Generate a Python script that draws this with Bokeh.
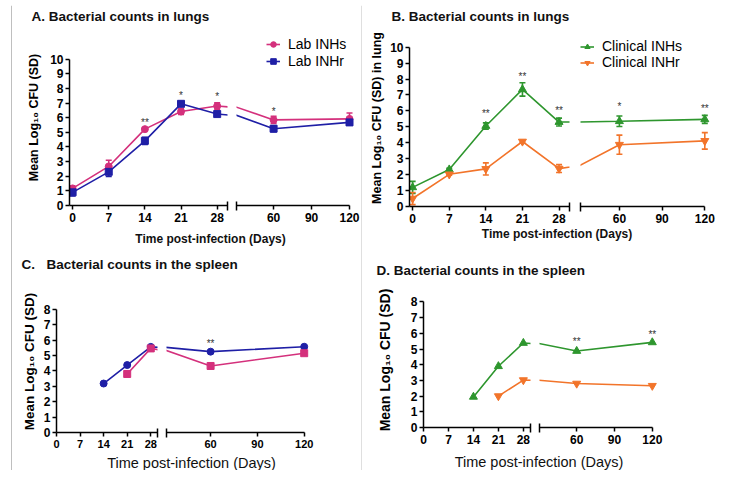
from bokeh.plotting import figure
from bokeh.layouts import row, column
from bokeh.models import (FixedTicker, Legend, LegendItem, Label, Whisker, TeeHead,
                          ColumnDataSource, Range1d, BoxAnnotation)
from bokeh.core.properties import value
from bokeh.embed import file_html
from bokeh.resources import INLINE

FONT = "Liberation Sans"

# ---------------- data ----------------
days = [0, 7, 14, 21, 28, 60, 120]
left_ticks = [0, 7, 14, 21, 28]
right_ticks = [60, 90, 120]

# A. lungs, lab strains
a_inhs = [1.17, 2.67, 5.22, 6.42, 6.8, 5.85, 5.92]
a_inhs_sd = [0.15, 0.42, 0.08, 0.2, 0.22, 0.25, 0.4]
a_inhr = [0.9, 2.3, 4.42, 6.95, 6.25, 5.25, 5.68]
a_inhr_sd = [0.25, 0.32, 0.25, 0.15, 0.12, 0.2, 0.15]
a_sig_days = [14, 21, 28, 60]
a_sig_y = [5.7, 7.5, 7.45, 6.4]
a_sig_txt = ["**", "*", "*", "*"]

# B. lungs, clinical strains
b_inhs = [1.2, 2.32, 5.05, 7.35, 5.3, 5.35, 5.47]
b_inhs_sd = [0.38, 0.08, 0.2, 0.42, 0.25, 0.33, 0.25]
b_inhr = [0.5, 2.02, 2.36, 4.08, 2.38, 3.88, 4.12]
b_inhr_sd = [0.38, 0.06, 0.38, 0.08, 0.25, 0.6, 0.52]
b_sig_days = [14, 21, 28, 60, 120]
b_sig_y = [5.82, 8.15, 6.05, 6.25, 6.15]
b_sig_txt = ["**", "**", "**", "*", "**"]

# C. spleen, lab strains
c_days_r = [14, 21, 28, 60, 120]
c_inhr = [3.18, 4.38, 5.56, 5.25, 5.57]
c_days_s = [21, 28, 60, 120]
c_inhs = [3.8, 5.46, 4.32, 5.15]
c_sig_days = [60]
c_sig_y = [5.8]
c_sig_txt = ["**"]

# D. spleen, clinical strains
d_days_s = [14, 21, 28, 60, 120]
d_inhs = [1.95, 3.9, 5.38, 4.87, 5.42]
d_days_r = [21, 28, 60, 120]
d_inhr = [2.0, 3.02, 2.8, 2.66]
d_sig_days = [60, 120]
d_sig_y = [5.45, 5.92]
d_sig_txt = ["**", "**"]

PINK = "#d4307c"
BLUE = "#1f1fa6"
GREEN = "#2e962e"
ORANGE = "#f2742a"
FRAME = "#808080"
XLABEL = "Time post-infection (Days)"


def style_axis(ax, size):
    ax.axis_line_color = "black"
    ax.axis_line_width = 1.5
    ax.major_tick_line_color = "black"
    ax.major_tick_line_width = 1.5
    ax.major_tick_in = 0
    ax.major_tick_out = 4
    ax.minor_tick_line_color = "black"
    ax.minor_tick_line_width = 1.5
    ax.minor_tick_in = 4
    ax.minor_tick_out = 5
    ax.major_label_text_font = FONT
    ax.major_label_text_font_size = size
    ax.major_label_text_font_style = "bold"
    ax.major_label_text_color = "black"
    ax.major_label_standoff = 2


def blank_fig(w, h, color="white"):
    f = figure(width=w, height=h, x_axis_location=None, y_axis_location=None,
               x_range=Range1d(0, w), y_range=Range1d(0, h),
               min_border_left=0, min_border_right=0, min_border_top=0, min_border_bottom=0,
               outline_line_color=None, toolbar_location=None, output_backend="svg",
               background_fill_color=color, border_fill_color=color)
    f.xgrid.visible = False
    f.ygrid.visible = False
    return f


def rule(f, left, right, bottom, top):
    # grey rule of the composite figure frame (decoration, in pixel units)
    f.add_layout(BoxAnnotation(left=left, right=right, bottom=bottom, top=top,
                               fill_color=FRAME, fill_alpha=1.0, line_color=None,
                               level="overlay"))


def text_fig(w, h, labels):
    f = blank_fig(w, h)
    for (x, y, txt, size, style, align) in labels:
        f.add_layout(Label(x=x, y=y, x_units="canvas", y_units="canvas", text=txt,
                           text_font=FONT, text_font_size=size, text_font_style=style,
                           text_color="#111111", text_align=align, text_baseline="middle"))
    return f


def make_row(P, series, sig, legend_loc=None):
    x0, w, top, hrow = P["x0"], P["w"], P["top"], P["hrow"]
    fl, l30, split, x_start = P["fl"], P["l30"], P["split"], P["x_start"]
    xr1 = Range1d(x_start, 30)
    ppd2 = (P["p120"] - P["p60"]) / 60.0
    fr2 = P["fr2"]
    xs = 60 - (P["p60"] - P["r_left"]) / ppd2
    xr2 = Range1d(xs, 120 + (fr2 - P["p120"]) / ppd2)
    yr = Range1d(0, P["ymax"] * (P["p0"] - P["ftop"]) / (P["p0"] - P["ptop"]))
    common = dict(height=hrow, y_range=yr, output_backend="svg", toolbar_location=None,
                  min_border_top=P["ftop"] - top, min_border_bottom=top + hrow - P["p0"],
                  background_fill_color="white", border_fill_color="white",
                  outline_line_color=None)
    f1 = figure(width=split - x0, x_range=xr1, min_border_left=fl - x0,
                min_border_right=split - l30, **common)
    f2 = figure(width=x0 + w - split, x_range=xr2, min_border_left=P["r_left"] - split,
                min_border_right=x0 + w - fr2, y_axis_location=None, **common)
    for f in (f1, f2):
        f.xgrid.visible = False
        f.ygrid.visible = False
        style_axis(f.xaxis[0], P["xtick_size"])
    f1.xaxis[0].ticker = FixedTicker(ticks=left_ticks, minor_ticks=[29.98])
    f1.xaxis[0].bounds = (x_start, 30)
    f2.xaxis[0].ticker = FixedTicker(ticks=right_ticks, minor_ticks=[xs + 0.02])
    f2.xaxis[0].bounds = (xs, 120)

    ya = f1.yaxis[0]
    style_axis(ya, P["ytick_size"])
    ya.ticker = FixedTicker(ticks=list(range(0, P["ymax"] + 1)), minor_ticks=[])
    ya.bounds = (0, P["ymax"])
    ya.axis_label = P["ylabel"]
    ya.axis_label_text_font = FONT
    ya.axis_label_text_font_size = P["ylabel_size"]
    ya.axis_label_text_font_style = "bold"
    ya.axis_label_text_color = "black"
    ya.axis_label_standoff = P["ylabel_standoff"]

    items = []
    for s in series:
        rends = []
        for f, left in ((f1, True), (f2, False)):
            lr = f.line(s["days"], s["vals"], line_color=s["color"], line_width=1.6)
            idx = [i for i, d in enumerate(s["days"]) if (d <= 30) == left]
            data = dict(x=[s["days"][i] for i in idx], y=[s["vals"][i] for i in idx])
            if s.get("sd") is not None:
                data["upper"] = [s["vals"][i] + s["sd"][i] for i in idx]
                data["lower"] = [s["vals"][i] - s["sd"][i] for i in idx]
            src = ColumnDataSource(data)
            sr = f.scatter("x", "y", source=src, marker=s["marker"], size=s["size"],
                           fill_color=s["color"], line_color=s["color"])
            if s.get("sd") is not None:
                wk = Whisker(base="x", upper="upper", lower="lower", source=src,
                             line_color=s["color"], line_width=1.6,
                             upper_head=TeeHead(size=6, line_color=s["color"], line_width=1.6),
                             lower_head=TeeHead(size=6, line_color=s["color"], line_width=1.6))
                f.add_layout(wk)
            if not left:
                rends = [lr, sr]
        if s.get("label"):
            items.append(LegendItem(label=s["label"], renderers=rends))

    sd_, sy_, st_ = sig
    for f, left in ((f1, True), (f2, False)):
        idx = [i for i, d in enumerate(sd_) if (d <= 30) == left]
        if idx:
            f.text(x=[sd_[i] for i in idx], y=[sy_[i] for i in idx], text=[st_[i] for i in idx],
                   text_font=value(FONT), text_font_size="10px", text_color="#333333",
                   text_align="center", text_baseline="middle")

    if items:
        lg = Legend(items=items, location=legend_loc, border_line_color=None,
                    background_fill_alpha=0, padding=0, margin=0, spacing=P["leg_spacing"],
                    glyph_width=14, glyph_height=P["leg_h"], label_height=P["leg_h"],
                    label_standoff=8, label_text_font=FONT, label_text_font_size="14px",
                    label_text_color="black")
        f2.add_layout(lg)
    return row(f1, f2)


# ---------- layout geometry (pixels) ----------
LW, RW = 349, 354          # column widths
LX, RX = 12, 362           # column left edges

PA = dict(x0=LX, w=LW, top=27, hrow=199, fl=69, x_start=-0.6, l30=227, split=231,
          r_left=236, fr2=355, p60=273.1, p120=349.0, p0=205, ptop=58.7, ymax=10, ftop=29,
          ylabel="Mean Log\u2081\u2080 CFU (SD)", ylabel_size="12.5px", ylabel_standoff=6,
          xtick_size="12px", ytick_size="12px", leg_spacing=1, leg_h=14)
PB = dict(x0=RX, w=RW, top=27, hrow=199, fl=409, x_start=-0.6, l30=569, split=574,
          r_left=580, fr2=710, p60=618.9, p120=704.3, p0=206, ptop=46.7, ymax=10, ftop=29,
          ylabel="Mean Log\u2081\u2080 CFU (SD) in lung", ylabel_size="12.5px", ylabel_standoff=3,
          xtick_size="12px", ytick_size="12px", leg_spacing=0, leg_h=13)
PC = dict(x0=LX, w=LW, top=276, hrow=176, fl=56, x_start=0, l30=157, split=162,
          r_left=166, fr2=310, p60=210.1, p120=303.7, p0=432, ptop=308.8, ymax=8, ftop=290,
          ylabel="Mean Log\u2081\u2080 CFU (SD)", ylabel_size="13.5px", ylabel_standoff=4,
          xtick_size="11px", ytick_size="12px", leg_spacing=1, leg_h=14)
PD = dict(x0=RX, w=RW, top=282, hrow=165, fl=423, x_start=0, l30=530, split=535,
          r_left=539, fr2=658, p60=576.2, p120=651.8, p0=427, ptop=301.4, ymax=8, ftop=292,
          ylabel="Mean Log\u2081\u2080 CFU (SD)", ylabel_size="14px", ylabel_standoff=15,
          xtick_size="12px", ytick_size="12px", leg_spacing=1, leg_h=14)

A_row = make_row(PA, [
    dict(days=days, vals=a_inhs, sd=a_inhs_sd, color=PINK, marker="circle", size=7, label="Lab INHs"),
    dict(days=days, vals=a_inhr, sd=a_inhr_sd, color=BLUE, marker="square", size=7, label="Lab INHr"),
], (a_sig_days, a_sig_y, a_sig_txt), legend_loc=(30, 136))

B_row = make_row(PB, [
    dict(days=days, vals=b_inhs, sd=b_inhs_sd, color=GREEN, marker="triangle", size=8, label="Clinical INHs"),
    dict(days=days, vals=b_inhr, sd=b_inhr_sd, color=ORANGE, marker="inverted_triangle", size=8, label="Clinical INHr"),
], (b_sig_days, b_sig_y, b_sig_txt), legend_loc=(0, 136))

C_row = make_row(PC, [
    dict(days=c_days_r, vals=c_inhr, color=BLUE, marker="circle", size=7),
    dict(days=c_days_s, vals=c_inhs, color=PINK, marker="square", size=7),
], (c_sig_days, c_sig_y, c_sig_txt))

D_row = make_row(PD, [
    dict(days=d_days_s, vals=d_inhs, color=GREEN, marker="triangle", size=8),
    dict(days=d_days_r, vals=d_inhr, color=ORANGE, marker="inverted_triangle", size=8),
], (d_sig_days, d_sig_y, d_sig_txt))

T = "13.5px"
head_A = text_fig(LW, 22, [(19, 10.5, "A. Bacterial counts in lungs", T, "bold", "left")])
mid_AC = text_fig(LW, 50, [(198, 12.8, XLABEL, "12px", "bold", "center"),
                           (9, 38.3, "C.", T, "bold", "left"),
                           (34, 38.3, "Bacterial counts in the spleen", T, "bold", "left")])
foot_C = text_fig(LW, 18, [(179, 10.2, XLABEL, "14.5px", "normal", "center")])

head_B = text_fig(RW, 22, [(29, 10.5, "B. Bacterial counts in lungs", T, "bold", "left")])
mid_BD = text_fig(RW, 56, [(194.5, 7.7, XLABEL, "12px", "bold", "center"),
                           (14, 43.8, "D. Bacterial counts in the spleen", T, "bold", "left")])
foot_D = text_fig(RW, 23, [(176.5, 14, XLABEL, "14.5px", "normal", "center")])

col_left = column(head_A, A_row, mid_AC, C_row, foot_C)
col_right = column(head_B, B_row, mid_BD, D_row, foot_D)

# frame rules of the composite figure: left edge, divider, top edge
pad_left = blank_fig(1, 465)
margin_left = blank_fig(11, 465)
rule(margin_left, 10, 11, 0, 465)
divider = blank_fig(1, 465)
rule(divider, 0, 1, 0, 465)
pad_top = blank_fig(717, 1)
top_fig = blank_fig(717, 4)
rule(top_fig, 11, 717, 0, 1)

body = row(pad_left, margin_left, col_left, divider, col_right)
page = column(pad_top, top_fig, body)

open("out.html", "w").write(file_html(page, INLINE, title="Bacterial counts"))
